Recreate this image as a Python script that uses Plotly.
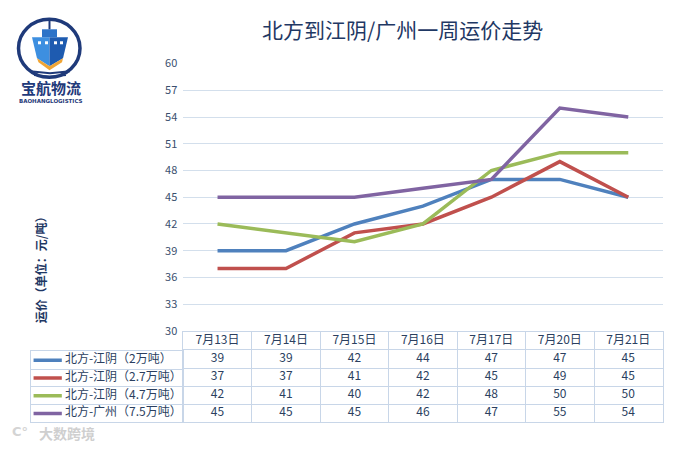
import plotly.graph_objects as go

# ---------------- data ----------------
dates = ["7月13日", "7月14日", "7月15日", "7月16日", "7月17日", "7月20日", "7月21日"]
series_names = ["北方-江阴（2万吨）", "北方-江阴（2.7万吨）", "北方-江阴（4.7万吨）", "北方-广州（7.5万吨）"]
jiangyin_2 = [39, 39, 42, 44, 47, 47, 45]
jiangyin_27 = [37, 37, 41, 42, 45, 49, 45]
jiangyin_47 = [42, 41, 40, 42, 48, 50, 50]
guangzhou_75 = [45, 45, 45, 46, 47, 55, 54]
series_values = [jiangyin_2, jiangyin_27, jiangyin_47, guangzhou_75]
y_ticks = [30, 33, 36, 39, 42, 45, 48, 51, 54, 57, 60]
title_text = "北方到江阴/广州一周运价走势"
y_title = "运价（单位：元/吨）"

# ---------------- styles ----------------
colors = ["#4F81BD", "#C0504D", "#9BBB59", "#8064A2"]
W, H = 693, 449
FONT = "Noto Sans CJK SC"
TXT = "#2B3F5F"
GRID = "#D3DFEC"
BORDER = "#C8D6E8"
# vertical calibration of the capture (measured on earlier renders)
Y_OFF, Y_SCALE = 8.7, 0.965


def px(x):
    return x / W


def py(y):
    return 1 - ((y - Y_OFF) / Y_SCALE) / H


fig = go.Figure()

# main lines
for name, vals, c in zip(series_names, series_values, colors):
    fig.add_trace(go.Scatter(x=dates, y=vals, mode="lines", name=name,
                             line=dict(color=c, width=3.5), xaxis="x", yaxis="y",
                             showlegend=False))

# data table (header + 4 rows)
row_keys = ["hdr"] + [f"r{i}" for i in range(len(series_names))]
fig.add_trace(go.Scatter(x=dates, y=["hdr"] * len(dates), text=dates, mode="text",
                         textfont=dict(size=12, color=TXT, family=FONT),
                         xaxis="x2", yaxis="y2", showlegend=False, hoverinfo="skip"))
for i, vals in enumerate(series_values):
    fig.add_trace(go.Scatter(x=dates, y=[f"r{i}"] * len(dates), text=[str(v) for v in vals],
                             mode="text", textfont=dict(size=12, color=TXT, family=FONT),
                             xaxis="x2", yaxis="y2", showlegend=False, hoverinfo="skip"))

# legend column of the table
for i, (name, c) in enumerate(zip(series_names, colors)):
    fig.add_trace(go.Scatter(x=[0.02, 0.205], y=[name, name], mode="lines",
                             line=dict(color=c, width=3.5), xaxis="x3", yaxis="y3",
                             showlegend=False, hoverinfo="skip"))
    fig.add_trace(go.Scatter(x=[0.225], y=[name], text=[name], mode="text",
                             textposition="middle right",
                             textfont=dict(size=12, color=TXT, family=FONT),
                             xaxis="x3", yaxis="y3", showlegend=False, hoverinfo="skip"))

x_dom = [px(183.3), px(662.5)]
plot_bottom, plot_top = 330.8, 63.3
tbl_top, tbl_hdr_bottom, tbl_bottom = 331.8, 351.3, 422.3

fig.update_layout(
    width=W, height=H,
    margin=dict(l=0, r=0, t=0, b=0),
    paper_bgcolor="white", plot_bgcolor="white",
    font=dict(family=FONT, color=TXT, size=12),
    xaxis=dict(type="category", categoryorder="array", categoryarray=dates,
               domain=x_dom, range=[-0.5, len(dates) - 0.5], showticklabels=False,
               showgrid=False, zeroline=False, showline=False, anchor="y"),
    yaxis=dict(domain=[py(plot_bottom), py(plot_top)], range=[30, 60],
               tickvals=y_ticks, showgrid=True, gridcolor=GRID, gridwidth=1,
               zeroline=False, showline=False, ticks="",
               tickfont=dict(size=11, color="#3A4F6E", family=FONT),
               ticklabelstandoff=5, anchor="x"),
    xaxis2=dict(type="category", categoryorder="array", categoryarray=dates,
                domain=x_dom, range=[-0.5, len(dates) - 0.5], tickson="boundaries",
                showgrid=True, gridcolor=BORDER, gridwidth=1, showticklabels=False,
                ticks="", showline=True, linecolor=BORDER, linewidth=1, mirror=True,
                zeroline=False, anchor="y2"),
    yaxis2=dict(type="category", categoryorder="array", categoryarray=row_keys,
                domain=[py(tbl_bottom), py(tbl_top)], range=[len(row_keys) - 0.5, -0.5],
                tickson="boundaries", showgrid=True, gridcolor=BORDER, gridwidth=1,
                showticklabels=False, ticks="", showline=True, linecolor=BORDER,
                linewidth=1, mirror=True, zeroline=False, anchor="x2"),
    xaxis3=dict(domain=[px(30.5), px(183.3)], range=[0, 1], showgrid=False,
                showticklabels=False, ticks="", showline=True, linecolor=BORDER,
                linewidth=1, mirror=True, zeroline=False, anchor="y3"),
    yaxis3=dict(type="category", categoryorder="array", categoryarray=series_names,
                domain=[py(tbl_bottom), py(tbl_hdr_bottom)],
                range=[len(series_names) - 0.5, -0.5], tickson="boundaries",
                showgrid=True, gridcolor=BORDER, gridwidth=1, showticklabels=False,
                ticks="", showline=True, linecolor=BORDER, linewidth=1, mirror=True,
                zeroline=False, anchor="x3"),
)

annotations = [
    dict(text=title_text, x=px(402), y=py(28.5), xref="paper", yref="paper",
         xanchor="center", yanchor="middle", showarrow=False,
         font=dict(size=21, color="#1F3864", family=FONT)),
    dict(text="<b>" + y_title + "</b>", x=px(40), y=py(267), xref="paper", yref="paper",
         xanchor="center", yanchor="middle", showarrow=False, textangle=-90,
         font=dict(size=12, color="#1F3864", family=FONT)),
    # logo texts
    dict(text="<b>宝航物流</b>", x=px(51), y=py(87.5), xref="paper", yref="paper",
         xanchor="center", yanchor="middle", showarrow=False,
         font=dict(size=15, color="#1F3A7A", family=FONT)),
    dict(text="<b>BAOHANGLOGISTICS</b>", x=px(51), y=py(101), xref="paper", yref="paper",
         xanchor="center", yanchor="middle", showarrow=False,
         font=dict(size=5.5, color="#1F3A7A", family="DejaVu Sans")),
    # watermark
    dict(text="<b>大数跨境</b>", x=px(37), y=py(433), xref="paper", yref="paper",
         xanchor="left", yanchor="middle", showarrow=False,
         font=dict(size=14, color="#CFCFCF", family=FONT)),
    dict(text="<b>C°</b>", x=px(10), y=py(431), xref="paper", yref="paper",
         xanchor="left", yanchor="middle", showarrow=False,
         font=dict(size=13, color="#D4D4D4", family="DejaVu Sans")),
]
fig.update_layout(annotations=annotations)


def path(points, close=True):
    s = "M " + " L ".join(f"{px(x):.5f},{py(y):.5f}" for x, y in points)
    return s + (" Z" if close else "")


shapes = [
    # ring
    dict(type="circle", xref="paper", yref="paper", x0=px(18.5), x1=px(80), y0=py(77),
         y1=py(19), line=dict(color="#1F3A7A", width=3.5)),
    # ship hull (left light, right dark)
    dict(type="path", xref="paper", yref="paper",
         path=path([(32, 37), (49.5, 37), (49.5, 66), (37, 58)]),
         fillcolor="#3D8FE0", line=dict(width=0)),
    dict(type="path", xref="paper", yref="paper",
         path=path([(49.5, 37), (68, 37), (63, 58), (49.5, 66)]),
         fillcolor="#1E5BB0", line=dict(width=0)),
    # superstructure
    dict(type="rect", xref="paper", yref="paper", x0=px(42), x1=px(57), y0=py(37),
         y1=py(29), fillcolor="#2C73C8", line=dict(width=0)),
    dict(type="rect", xref="paper", yref="paper", x0=px(48.5), x1=px(50.5), y0=py(29),
         y1=py(19), fillcolor="#1F3A7A", line=dict(width=0)),
    # orange keel
    dict(type="path", xref="paper", yref="paper",
         path=path([(37, 58), (49.5, 66), (63, 58), (62, 62), (49.5, 70), (38.5, 62)]),
         fillcolor="#F0A535", line=dict(width=0)),
    # waves
    dict(type="path", xref="paper", yref="paper",
         path=path([(30, 71), (50, 73), (70, 71)], close=False),
         line=dict(color="#1F3A7A", width=2)),
    dict(type="path", xref="paper", yref="paper",
         path=path([(34, 75), (50, 76.5), (66, 75)], close=False),
         line=dict(color="#1F3A7A", width=1.5)),
]
for wx in (38, 45, 54, 60):
    shapes.append(dict(type="rect", xref="paper", yref="paper", x0=px(wx), x1=px(wx + 3),
                       y0=py(44), y1=py(41), fillcolor="white", line=dict(width=0)))
fig.update_layout(shapes=shapes)

post = (
    "var gd=document.getElementById('{plot_id}');"
    "var de=document.documentElement, b=document.body;"
    "de.style.margin='0';de.style.padding='0';de.style.overflow='hidden';de.style.height='449px';"
    "b.style.margin='0';b.style.padding='0';b.style.overflow='hidden';b.style.height='449px';"
    "gd.style.position='fixed';gd.style.left='0px';gd.style.top='0px';"
)
fig.write_html("out.html", config={"displayModeBar": False}, post_script=post)
